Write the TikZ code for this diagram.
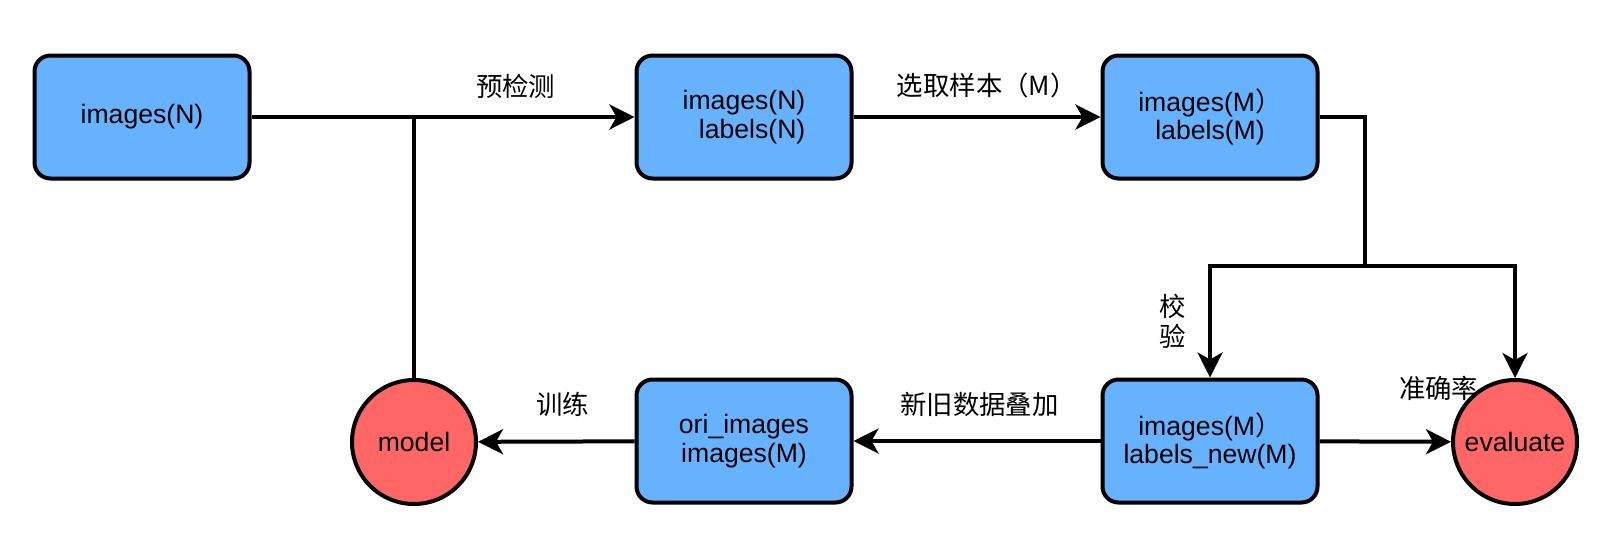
\documentclass[tikz,border=0pt]{standalone}
\usepackage{fontspec}
\setmainfont{Liberation Sans}
\newfontfamily\cjk{Noto Sans CJK SC}
\usetikzlibrary{arrows.meta,positioning}
\definecolor{boxblue}{HTML}{66B2FF}
\definecolor{boxred}{HTML}{FF6666}

\begin{document}
\begin{tikzpicture}[x=0.5pt,y=-0.5pt,>={Stealth[length=12.5pt,width=12.5pt,inset=3.5pt]},
  line width=2pt,font=\fontsize{13.3}{14.3}\selectfont,
  data node/.style={rectangle,rounded corners=8pt,fill=boxblue,draw,minimum width=107.5pt,
    minimum height=61.5pt,inner sep=0pt},
  result node/.style={circle,fill=boxred,draw,minimum size=62pt,inner sep=0pt},
  label node/.style={font=\cjk\fontsize{13.2}{15}\selectfont,fill=none,draw=none}]
   \useasboundingbox (0,0) rectangle (1620,547);
   \node[data node]              (b_1)   at (142,117)  {images(N)};
   \node[data node,align=right]  (b_2)   at (744,117)  {images(N)\\labels(N)};
   \node[data node,align=center] (b_3)   at (1210,117) {images(M{\cjk ）}\\labels(M)};
   \node[data node,align=center] (b_4)   at (1210,441) {images(M{\cjk ）}\\labels\_new(M)};
   \node[data node,align=center] (b_5)   at (744,441)  {ori\_images\\images(M)};
   \node[result node]            (model) at (414,442)  {model};
   \node[result node]            (eval)  at (1515,442) {evaluate};
   % junctions of the elbow lines
   \coordinate (j_1) at (model |- b_1);
   \coordinate (j_2) at (1365,117);
   \coordinate (j_3) at (1365,266);
   \coordinate (j_4) at (j_3 -| b_4);
   \coordinate (j_5) at (j_3 -| eval);

   \draw[->] (b_1) -- (b_2) node[label node,pos=0.69,above=5pt] {预检测};
   \draw (model) -- (j_1);
   \draw[->] (b_2) -- (b_3) node[label node,pos=0.54,above=5pt] {选取样本（M）};
   \draw (b_3.east) -- (j_2) -- (j_3);
   \draw[->] (j_3) -- (j_4) -- (b_4) node[label node,pos=0.5,left=7.7pt,align=center] {校\\验};
   \draw[->] (j_3) -- (j_5) -- (eval) node[label node,pos=1,left=14pt,yshift=-5pt] {准确率};
   \draw[->] (b_4) -- (eval);
   \draw[->] (b_4) -- (b_5) node[label node,pos=0.49,above=8pt] {新旧数据叠加};
   \draw[->] (b_5) -- (model) node[label node,pos=0.46,above=8pt] {训练};

\end{tikzpicture}
\end{document}
